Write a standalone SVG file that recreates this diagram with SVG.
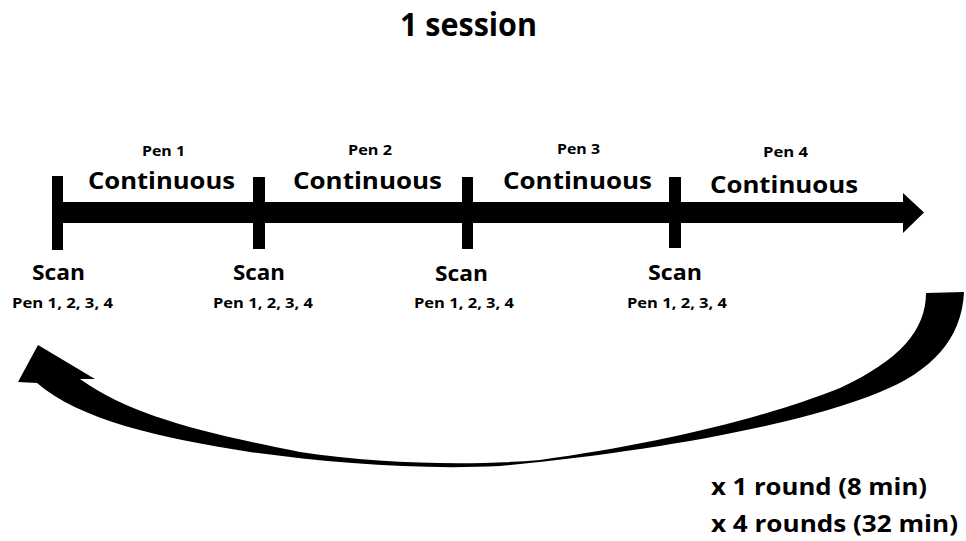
<svg xmlns="http://www.w3.org/2000/svg" width="966" height="541" viewBox="0 0 966 541">
<style>
  text { font-family: "Open Sans", "Noto Sans", "Liberation Sans", sans-serif; font-weight: bold; fill: #000; }
  .title { font-size: 32px; }
  .pen { font-size: 14px; }
  .cont { font-size: 24px; }
  .scan { font-size: 22px; }
  .pens { font-size: 14px; }
  .round { font-size: 24px; }
  .tick { fill: #000; }
  .ink { fill: #000; stroke: none; }
</style>
<rect x="0" y="0" width="966" height="541" fill="#fff"/>

<g id="title">
  <text class="title" x="400" y="36" textLength="137" lengthAdjust="spacingAndGlyphs">1 session</text>
</g>

<g id="connectors">
  <!-- main timeline arrow -->
  <rect class="ink" x="55" y="202" width="850" height="21"/>
  <polygon class="ink" points="903,193 924,212.5 903,233"/>
  <!-- curved return arrow -->
  <path class="ink" d="M964,292 C962,340 930,372 880,392 C800,425 650,452 500,466 C420,470 330,463 250,452 C160,438 80,420 37,383 L18,382 L38,345 L95,379 L80,379 C130,415 200,432 300,452 C380,464 470,466 540,460 C650,445 760,420 840,388 C900,360 926,330 926,293 Z"/>
</g>

<g id="scan1">
  <rect class="tick" x="52" y="176" width="11" height="74"/>
  <text class="scan" x="32" y="280" textLength="53" lengthAdjust="spacingAndGlyphs">Scan</text>
  <text class="pens" x="12" y="308" textLength="101" lengthAdjust="spacingAndGlyphs">Pen 1, 2, 3, 4</text>
</g>
<g id="scan2">
  <rect class="tick" x="253" y="177" width="12" height="72"/>
  <text class="scan" x="233" y="280" textLength="52" lengthAdjust="spacingAndGlyphs">Scan</text>
  <text class="pens" x="213" y="308" textLength="100" lengthAdjust="spacingAndGlyphs">Pen 1, 2, 3, 4</text>
</g>
<g id="scan3">
  <rect class="tick" x="462" y="177" width="11" height="72"/>
  <text class="scan" x="435" y="281" textLength="53" lengthAdjust="spacingAndGlyphs">Scan</text>
  <text class="pens" x="414" y="308" textLength="100" lengthAdjust="spacingAndGlyphs">Pen 1, 2, 3, 4</text>
</g>
<g id="scan4">
  <rect class="tick" x="669" y="177" width="12" height="71"/>
  <text class="scan" x="648" y="280" textLength="54" lengthAdjust="spacingAndGlyphs">Scan</text>
  <text class="pens" x="627" y="308" textLength="100" lengthAdjust="spacingAndGlyphs">Pen 1, 2, 3, 4</text>
</g>

<g id="pen1">
  <text class="pen" x="142" y="156" textLength="43" lengthAdjust="spacingAndGlyphs">Pen 1</text>
  <text class="cont" x="88" y="189" textLength="147" lengthAdjust="spacingAndGlyphs">Continuous</text>
</g>
<g id="pen2">
  <text class="pen" x="348" y="155" textLength="44" lengthAdjust="spacingAndGlyphs">Pen 2</text>
  <text class="cont" x="293" y="189" textLength="149" lengthAdjust="spacingAndGlyphs">Continuous</text>
</g>
<g id="pen3">
  <text class="pen" x="557" y="154" textLength="43" lengthAdjust="spacingAndGlyphs">Pen 3</text>
  <text class="cont" x="503" y="189" textLength="149" lengthAdjust="spacingAndGlyphs">Continuous</text>
</g>
<g id="pen4">
  <text class="pen" x="763" y="157" textLength="45" lengthAdjust="spacingAndGlyphs">Pen 4</text>
  <text class="cont" x="710" y="193" textLength="148" lengthAdjust="spacingAndGlyphs">Continuous</text>
</g>

<g id="rounds">
  <text class="round" x="711" y="495" textLength="216" lengthAdjust="spacingAndGlyphs">x 1 round (8 min)</text>
  <text class="round" x="711" y="532" textLength="247" lengthAdjust="spacingAndGlyphs">x 4 rounds (32 min)</text>
</g>
</svg>
